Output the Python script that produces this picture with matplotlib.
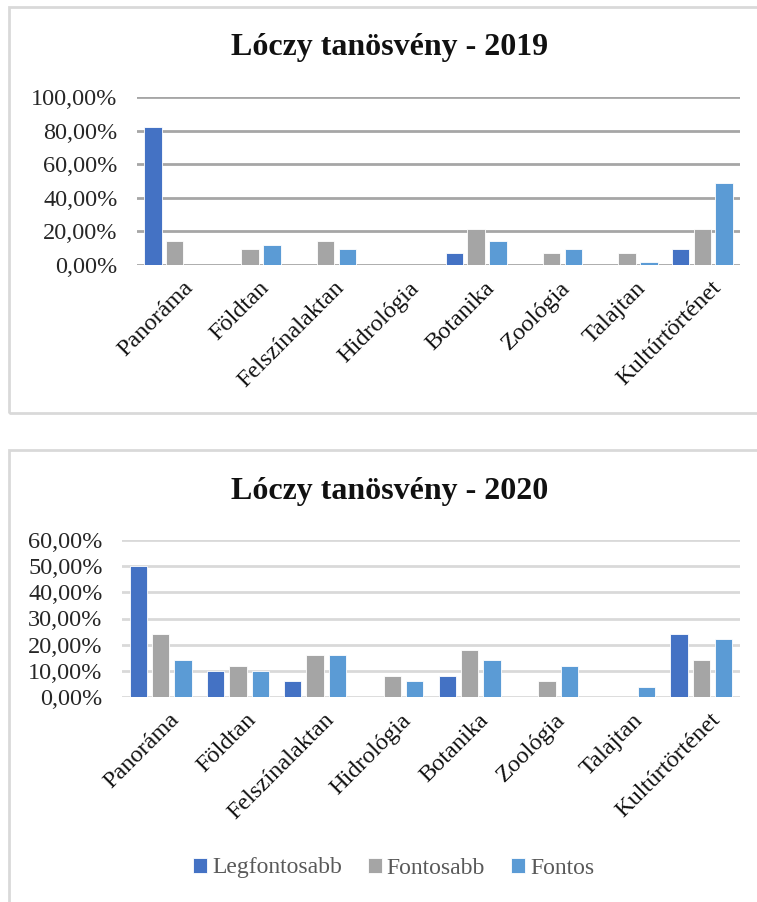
import matplotlib
matplotlib.use('Agg')
import matplotlib.pyplot as plt
import matplotlib.transforms as mtrans
from matplotlib.patches import Rectangle
from matplotlib.ticker import FuncFormatter
import numpy as np

# Data (in %)
categories = ['Panoráma', 'Földtan', 'Felszínalaktan', 'Hidrológia',
              'Botanika', 'Zoológia', 'Talajtan', 'Kultúrtörténet']
series_names = ['Legfontosabb', 'Fontosabb', 'Fontos']
colors = ['#4472C4', '#A5A5A5', '#5B9BD5']

legf_2019 = [82, 0, 0, 0, 7, 0, 0, 9.5]
fontosabb_2019 = [14, 9.5, 14, 0, 21.6, 7, 7, 21.6]
fontos_2019 = [0, 11.8, 9.5, 0, 14, 9.5, 1.8, 49]

legf_2020 = [50, 10, 6, 0, 8, 0, 0, 24]
fontosabb_2020 = [24, 12, 16, 8, 18, 6, 0, 14]
fontos_2020 = [14, 10, 16, 6, 14, 12, 4, 22]

W, H = 757, 902
DPI = 100
plt.rcParams['font.family'] = ['Liberation Serif', 'DejaVu Serif']

fig = plt.figure(figsize=(W / DPI, H / DPI), dpi=DPI)


def px_axes(left, right, top, bottom):
    """Axes placed by pixel edges (top-left origin)."""
    return fig.add_axes([left / W, 1 - bottom / H, (right - left) / W, (bottom - top) / H])


def pct(v, _):
    return f'{v:.2f}'.replace('.', ',') + '%'


def draw_panel(ax, title, title_y, data, ymax, step, grid_color, bar_w, bar_step):
    x = np.arange(len(categories))
    for i, (vals, c) in enumerate(zip(data, colors)):
        ax.bar(x + (i - 1) * bar_step, vals, width=bar_w, color=c,
               edgecolor='white', linewidth=0.6, zorder=3, label=series_names[i])
    ax.set_xlim(-0.5, len(categories) - 0.5)
    ax.set_ylim(0, ymax)
    ax.set_yticks(np.arange(0, ymax + 0.1, step))
    ax.yaxis.set_major_formatter(FuncFormatter(pct))
    ax.grid(axis='y', color=grid_color, linewidth=2, zorder=0)
    for s in ax.spines.values():
        s.set_visible(False)
    ax.tick_params(axis='both', length=0, labelsize=17.5, colors='#262626')
    ax.tick_params(axis='y', pad=14)
    ax.set_xticks(x)
    ax.set_xticklabels(categories, rotation=45, ha='right', va='top',
                       rotation_mode='anchor', color='#111111')
    ax.tick_params(axis='x', pad=9)
    # nudge category labels a little to the right
    shift = mtrans.ScaledTranslation(8 / DPI, 0, fig.dpi_scale_trans)
    for lbl in ax.get_xticklabels():
        lbl.set_transform(lbl.get_transform() + shift)
    fig.text(0.515, 1 - title_y / H, title, ha='center', va='center',
             fontsize=23, fontweight='bold', color='#111111')


# panel frames
fig.patches.append(Rectangle((9 / W, 1 - 413 / H), 1, 406 / H, transform=fig.transFigure,
                             fill=False, edgecolor='#d9d9d9', linewidth=2))
fig.patches.append(Rectangle((9 / W, -0.1), 1, 0.1 + 1 - 450 / H, transform=fig.transFigure,
                             fill=False, edgecolor='#d9d9d9', linewidth=2))

ax1 = px_axes(137, 740, 97, 265)
draw_panel(ax1, 'Lóczy tanösvény - 2019', 48,
           [legf_2019, fontosabb_2019, fontos_2019], 100, 20, '#a6a6a6', 0.232, 0.29)

ax2 = px_axes(122, 740, 540, 697)
draw_panel(ax2, 'Lóczy tanösvény - 2020', 492,
           [legf_2020, fontosabb_2020, fontos_2020], 60, 10, '#d9d9d9', 0.225, 0.289)

handles, labels = ax2.get_legend_handles_labels()
leg = fig.legend(handles, labels, loc='center', bbox_to_anchor=(0.52, 1 - 868 / H), ncol=3,
                 frameon=False, fontsize=17, handlelength=0.6, handleheight=0.6,
                 handletextpad=0.2, columnspacing=1.1, labelcolor='#595959')

fig.savefig('out.png', dpi=DPI)
